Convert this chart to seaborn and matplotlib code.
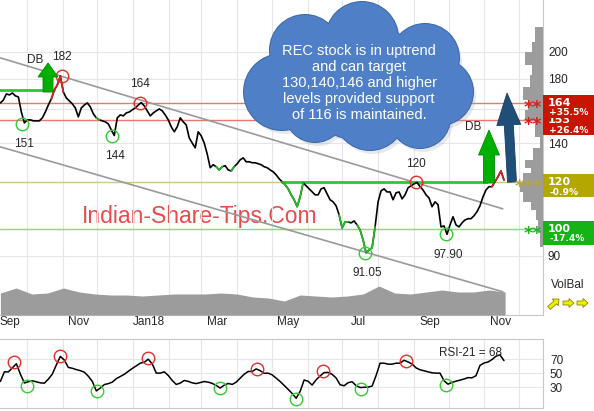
"""
REC - price chart with channel, volume, RSI and the tip annotations.
"""
import numpy as np
import pandas as pd
import matplotlib
matplotlib.use("Agg")
import matplotlib.pyplot as plt
import matplotlib.dates as mdates
import matplotlib.ticker as mticker
from matplotlib.patches import Circle, FancyArrow, Rectangle
import seaborn as sns

# ── Data ──────────────────────────────────────────────────────
PRICE_START, PRICE_END = "2017-09-08", "2018-11-18"
PRICE = [
    163.8, 165.7, 169.7, 169.0, 170.3, 168.4, 167.7, 158.1, 151.5, 153.3,
    153.3, 152.7, 152.7, 152.7, 154.5, 158.1, 162.5, 166.4, 172.4, 175.8,
    182.0, 171.0, 167.0, 165.1, 163.2, 160.6, 155.1, 160.6, 162.5, 163.8,
    161.3, 157.0, 154.5, 153.3, 152.7, 152.1, 150.9, 147.4, 144.2, 154.5,
    156.3, 155.7, 157.5, 158.1, 159.4, 160.6, 162.5, 164.0, 161.9, 158.8,
    155.7, 157.5, 158.8, 160.0, 158.8, 156.3, 153.3, 149.2, 146.3, 149.2,
    154.5, 152.1, 150.3, 142.8, 140.0, 137.4, 146.3, 144.0, 140.0, 134.1,
    127.1, 128.6, 127.6, 126.0, 127.6, 128.1, 126.0, 125.5, 127.6, 129.1,
    131.1, 132.1, 130.1, 130.1, 129.6, 129.6, 129.1, 128.6, 127.6, 127.1,
    126.0, 125.1, 123.6, 121.7, 120.3, 118.9, 117.0, 114.3, 112.1, 109.1,
    113.4, 119.8, 118.4, 117.0, 115.6, 114.3, 114.3, 117.0, 117.5, 114.7,
    112.1, 111.2, 109.5, 105.7, 100.4, 102.8, 102.8, 102.4, 103.2, 101.6,
    99.6, 95.8, 91.1, 92.1, 92.9, 100.8, 111.2, 116.1, 117.0, 115.6,
    115.6, 112.1, 115.2, 115.6, 112.5, 114.3, 117.5, 118.4, 119.3, 120.0,
    118.0, 116.5, 114.3, 112.9, 109.1, 111.2, 110.0, 100.8, 101.2, 97.9,
    101.6, 104.9, 101.6, 100.8, 102.4, 103.6, 104.1, 104.1, 105.3, 107.0,
    109.5, 113.4, 116.5, 118.0, 118.0, 120.3, 122.7, 125.5, 121.1,
]
GREEN_SPANS = [(32, 33), (72, 74), (77, 78), (94, 101), (113, 116), (119, 125)]
RED_SPANS = [(17, 21), (164, 168)]

VOLUME_START, VOLUME_END = "2017-09-08", "2018-11-19"
VOLUME = [22, 27, 21, 22, 27, 23, 21, 20, 20, 19, 20, 21, 21, 21, 22, 21, 18,
          17, 14, 20, 19, 18, 19, 21, 29, 22, 21, 23, 25, 23, 23, 25, 23]

RSI_START, RSI_END = "2017-09-08", "2018-11-18"
RSI = [
    38.1, 51.9, 51.8, 57.7, 63.5, 48.7, 35.9, 37.7, 39.0, 37.6,
    36.1, 35.6, 41.4, 48.7, 61.8, 74.0, 68.8, 58.2, 57.0, 55.1,
    53.6, 51.4, 45.6, 38.2, 24.5, 28.6, 33.6, 35.0, 37.1, 42.1,
    45.2, 48.4, 52.6, 56.7, 60.5, 64.3, 65.7, 70.0, 63.3, 50.1,
    50.0, 51.9, 46.7, 39.5, 33.8, 35.7, 39.5, 38.2, 36.1, 35.0,
    36.5, 38.0, 37.1, 35.3, 32.4, 28.6, 32.8, 35.2, 33.8, 37.1,
    42.8, 48.5, 52.4, 52.4, 56.1, 53.6, 49.8, 50.0, 47.6, 42.8,
    38.0, 32.4, 26.7, 20.9, 14.0, 23.8, 40.2, 38.3, 32.9, 40.4,
    46.0, 50.8, 51.0, 48.3, 43.1, 33.4, 31.9, 36.3, 37.7, 32.0,
    29.4, 29.7, 30.0, 31.4, 46.5, 64.3, 64.3, 62.9, 62.9, 64.3,
    64.3, 68.5, 66.1, 63.1, 57.6, 54.8, 53.4, 51.9, 50.5, 50.0,
    50.0, 39.0, 34.2, 36.7, 38.5, 39.9, 41.6, 43.6, 43.3, 46.3,
    61.1, 64.5, 66.0, 69.5, 74.3, 76.2, 68.0,
]
RSI_VALUE = 68

# volume by price (bin edges in Rs, share of volume in %)
PROFILE_EDGES = [93.3, 98.5, 103.6, 107.8, 111.2, 115.6, 119.8, 124.6, 127.1,
                 131.1, 137.4, 143.1, 153.3, 159.4, 165.7, 174.1, 182.8, 190.1,
                 200.0, 208.0, 220.6]
PROFILE_VOL = [0.6, 0.9, 1.3, 2.2, 3.7, 4.2, 3.7, 2.2, 3.3, 1.8, 0.6, 1.5, 3.3,
               2.8, 3.7, 2.4, 2.0, 3.3, 2.0, 1.5]

PIVOT_HIGH_DATES = ["2017-10-31", "2018-01-07", "2018-09-03"]
PIVOT_HIGH_PRICES = [182, 164, 120]
PIVOT_HIGH_LABELS = ["182", "164", "120"]
PIVOT_LOW_DATES = ["2017-09-27", "2017-12-14", "2018-07-21", "2018-09-29"]
PIVOT_LOW_PRICES = [151, 144, 91.05, 97.90]
PIVOT_LOW_LABELS = ["151", "144", "91.05", "97.90"]

RSI_HIGH_DATES = ["2017-09-20", "2017-10-30", "2018-01-14", "2018-04-18",
                  "2018-06-14", "2018-08-25"]
RSI_HIGH_VALUES = [65.7, 74.5, 72.0, 55.7, 53.8, 68.1]
RSI_LOW_DATES = ["2017-10-01", "2017-12-01", "2018-03-17", "2018-05-22",
                 "2018-07-17", "2018-09-29"]
RSI_LOW_VALUES = [31.9, 24.8, 28.6, 13.4, 27.1, 32.4]

CHANNEL_DATES = ["2017-09-08", "2018-11-17"]
CHANNEL_UPPER = [195.4, 108.2]
CHANNEL_LOWER = [137.9, 78.2]

LEVELS = [164, 153, 120, 100]
LEVEL_CHANGE = ["+35.5%", "+26.4%", "-0.9%", "-17.4%"]
LEVEL_STARS = ["**", "**", "***", "**"]

DB_LEVELS = [172, 120]
DB_DATES = [("2017-09-07", "2017-10-24"), ("2018-05-10", "2018-11-03")]

MONTH_LABEL_DATES = ["2017-09-16", "2017-11-15", "2018-01-15", "2018-03-15",
                     "2018-05-15", "2018-07-15", "2018-09-15", "2018-11-15"]
MONTH_LABELS = ["Sep", "Nov", "Jan18", "Mar", "May", "Jul", "Sep", "Nov"]
PRICE_TICKS = [90, 100, 120, 140, 160, 180, 200]
PRICE_TICK_LABELS = ["90", "", "", "140", "", "180", "200"]
RSI_TICKS = [30, 50, 70]

CLOUD_TEXT = ("REC stock is in uptrend\nand can target\n130,140,146 and higher\n"
              "levels provided support\nof 116 is maintained.")
WATERMARK = "Indian-Share-Tips.Com"

# ── Style ─────────────────────────────────────────────────────
W, H = 594, 411
RED, GREEN, OLIVE = "#c81400", "#14b414", "#b4a800"
GRID = "#e6e6e6"
FRAME = "#c8c8c8"

sns.set_style("white")
plt.rcParams["font.family"] = ["Liberation Sans", "DejaVu Sans"]

fig = plt.figure(figsize=(W / 100, H / 100), dpi=100)
ax = fig.add_axes([0, 1 - 315 / H, 543 / W, 315 / H])
ax_rsi = fig.add_axes([0, 1 - 408 / H, 543 / W, 69 / H])

xlim = mdates.date2num([pd.Timestamp("2017-09-07 16:00"),
                        pd.Timestamp("2018-12-21 19:00")])

# ── Price panel ───────────────────────────────────────────────
ax.set_yscale("log")
price = pd.DataFrame({
    "date": pd.date_range(PRICE_START, PRICE_END, periods=len(PRICE)),
    "close": PRICE,
})

ax.text(199.5 / 543, 1 - 223 / 315, WATERMARK, transform=ax.transAxes,
        ha="center", va="baseline", fontsize=16.5, color="#e84b4b", zorder=0.5)

for lvl, col in zip(LEVELS, ["#e8796e", "#e8796e", "#cfc88a", "#7ee07e"]):
    ax.axhline(lvl, color=col, lw=1, zorder=1)

chan_dates = pd.to_datetime(CHANNEL_DATES)
ax.plot(chan_dates, CHANNEL_UPPER, color="#9a9a9a", lw=1.2, zorder=1.5)
ax.plot(chan_dates, CHANNEL_LOWER, color="#9a9a9a", lw=1.2, zorder=1.5)

for lvl, (d0, d1) in zip(DB_LEVELS, DB_DATES):
    ax.plot(pd.to_datetime([d0, d1]), [lvl, lvl], color="#2ec82e", lw=2,
            zorder=2)

sns.lineplot(data=price, x="date", y="close", ax=ax, color="black", lw=1.2,
             zorder=3)
for spans, col in [(GREEN_SPANS, "#22c022"), (RED_SPANS, "#e02020")]:
    for a, b in spans:
        sns.lineplot(data=price.iloc[a:b + 1], x="date", y="close", ax=ax,
                     color=col, lw=1.2, zorder=3.5)

ax.plot(pd.to_datetime(PIVOT_HIGH_DATES), PIVOT_HIGH_PRICES, "o", ms=9,
        mfc="none", mec="#e0302a", mew=1, zorder=4)
ax.plot(pd.to_datetime(PIVOT_LOW_DATES), PIVOT_LOW_PRICES, "o", ms=9,
        mfc="none", mec="#33cc33", mew=1, zorder=4)
for d, p, lab in zip(PIVOT_HIGH_DATES, PIVOT_HIGH_PRICES, PIVOT_HIGH_LABELS):
    ax.annotate(lab, (pd.Timestamp(d), p), xytext=(0, 13.5),
                textcoords="offset points", ha="center", va="center",
                fontsize=8.5)
for d, p, lab in zip(PIVOT_LOW_DATES, PIVOT_LOW_PRICES, PIVOT_LOW_LABELS):
    ax.annotate(lab, (pd.Timestamp(d), p), xytext=(1.5, -14.5),
                textcoords="offset points", ha="center", va="center",
                fontsize=8.5)

# volume area along the bottom
ax_vol = ax.twinx()
ax_vol.fill_between(pd.date_range(VOLUME_START, VOLUME_END, periods=len(VOLUME)),
                    VOLUME, 0, color="#9c9c9c", lw=0)
ax_vol.set_ylim(0, 315)
ax_vol.axis("off")

# volume by price on the right edge
ax_vp = ax.twiny()
ax_vp.barh(PROFILE_EDGES[:-1], PROFILE_VOL, height=np.diff(PROFILE_EDGES),
           align="edge", color="#9c9c9c", lw=0)
ax_vp.set_xlim(100, 0)
ax_vp.axis("off")

ax.set_xlim(xlim)
ax.set_ylim(71.4, 245.1)
ax.set_xlabel("")
ax.set_ylabel("")
ax.yaxis.tick_right()
ax.yaxis.set_major_locator(mticker.FixedLocator(PRICE_TICKS))
ax.yaxis.set_major_formatter(mticker.FixedFormatter(PRICE_TICK_LABELS))
ax.yaxis.set_minor_locator(mticker.NullLocator())
ax.xaxis.set_major_locator(mticker.FixedLocator(
    mdates.date2num(pd.to_datetime(MONTH_LABEL_DATES))))
ax.xaxis.set_major_formatter(mticker.FixedFormatter(MONTH_LABELS))
ax.xaxis.set_minor_locator(mdates.MonthLocator())
ax.tick_params(axis="x", which="both", length=0, pad=1, labelsize=8.5)
ax.tick_params(axis="y", which="both", length=0, pad=3.6, labelsize=8.5)
ax.grid(axis="y", which="major", color=GRID, lw=0.8)
ax.grid(axis="x", which="minor", color=GRID, lw=0.8)
ax.grid(axis="x", which="major", visible=False)
for side in ["left", "top"]:
    ax.spines[side].set_visible(False)
for side in ["right", "bottom"]:
    ax.spines[side].set_color(FRAME)

# ── RSI panel ─────────────────────────────────────────────────
sns.lineplot(x=pd.date_range(RSI_START, RSI_END, periods=len(RSI)), y=RSI,
             ax=ax_rsi, color="black", lw=1.1)
ax_rsi.plot(pd.to_datetime(RSI_HIGH_DATES), RSI_HIGH_VALUES, "o", ms=9,
            mfc="none", mec="#e0302a", mew=1)
ax_rsi.plot(pd.to_datetime(RSI_LOW_DATES), RSI_LOW_VALUES, "o", ms=9,
            mfc="none", mec="#33cc33", mew=1)
ax_rsi.text(470.5 / 543, 1 - 14 / 69, f"RSI-21 = {RSI_VALUE}",
            transform=ax_rsi.transAxes, ha="center", va="center", fontsize=8.5)
ax_rsi.set_xlim(xlim)
ax_rsi.set_ylim(0, 99)
ax_rsi.set_xlabel("")
ax_rsi.set_ylabel("")
ax_rsi.yaxis.tick_right()
ax_rsi.set_yticks(RSI_TICKS)
ax_rsi.xaxis.set_major_locator(mdates.MonthLocator())
ax_rsi.xaxis.set_major_formatter(mticker.NullFormatter())
ax_rsi.tick_params(axis="x", length=0, labelbottom=False)
ax_rsi.tick_params(axis="y", length=0, pad=5, labelsize=8.5)
ax_rsi.grid(axis="both", color=GRID, lw=0.8)
ax_rsi.spines["left"].set_visible(False)
for side in ["right", "bottom", "top"]:
    ax_rsi.spines[side].set_color(FRAME)

# ── Annotations in pixel space ────────────────────────────────
ov = fig.add_axes([0, 0, 1, 1], zorder=10)
ov.set_xlim(0, W)
ov.set_ylim(H, 0)
ov.axis("off")


def level_px(p):
    return H - ax.transData.transform((xlim[0], p))[1]


# cloud callout
cloud = [(282, 92, 38), (305, 50, 35), (362, 38, 36), (425, 58, 34),
         (440, 92, 33), (420, 118, 30), (370, 115, 35), (315, 112, 30),
         (360, 80, 60)]
for cx, cy, r in cloud:
    ov.add_patch(Circle((cx + 3, cy + 4), r, fc="#9aa6b8", ec="none",
                        alpha=0.25))
for cx, cy, r in cloud:
    ov.add_patch(Circle((cx, cy), r + 1, fc="#3c68a8", ec="none"))
for cx, cy, r in cloud:
    ov.add_patch(Circle((cx, cy), r, fc="#4f7fc6", ec="none"))
ov.text(359, 83, CLOUD_TEXT, ha="center", va="center", color="white",
        fontsize=10.5, linespacing=1.2)

# breakout arrows
ov.add_patch(FancyArrow(48, 92, 0, -29, width=10, head_width=20,
                        head_length=14, length_includes_head=True,
                        fc="#00b000", ec="#008a00", lw=0.6))
ov.add_patch(FancyArrow(489, 183, 0, -53, width=11, head_width=21,
                        head_length=25, length_includes_head=True,
                        fc="#00b000", ec="#008a00", lw=0.6))
ov.add_patch(FancyArrow(512, 182, -5, -89, width=9, head_width=24,
                        head_length=32, length_includes_head=True,
                        fc="#1f4e79", ec="#1a3d66", lw=0.6))
ov.text(35, 60, "DB", ha="center", va="center", fontsize=8.5)
ov.text(473, 127, "DB", ha="center", va="center", fontsize=8.5)

# level boxes on the right
box_colors = [RED, RED, OLIVE, GREEN]
star_colors = ["#d42020", "#d42020", "#b5a642", "#22b022"]
for i in [1, 0, 2, 3]:
    y = level_px(LEVELS[i])
    z = 3 if i == 0 else 2
    ov.add_patch(Rectangle((543, y - 8), 51, 23 if i < 3 else 24,
                           fc=box_colors[i], ec="none", zorder=z))
    ov.text(548, y, str(LEVELS[i]), color="white", fontsize=8,
            fontweight="bold", family="DejaVu Sans", va="center",
            zorder=z + 0.05)
    ov.text(549, y + 10, LEVEL_CHANGE[i], color="white", fontsize=6.6,
            fontweight="bold", family="DejaVu Sans", va="center",
            zorder=z + 0.05)
    ov.text(542, y + 10, LEVEL_STARS[i], color=star_colors[i], fontsize=12.5,
            fontweight="bold", family="DejaVu Sans", ha="right",
            va="baseline", zorder=5)

# VolBal indicator
ov.text(551, 285, "VolBal", fontsize=8.5, va="center")
for x0, y0, dx, dy in [(549, 308, 10, -9), (563, 303, 11, 0), (577, 303, 11, 0)]:
    ov.add_patch(FancyArrow(x0, y0, dx, dy, width=4, head_width=9,
                            head_length=5, length_includes_head=True,
                            fc="#eeee00", ec="#8a8a00", lw=0.6))

fig.savefig("out.png", dpi=100)
